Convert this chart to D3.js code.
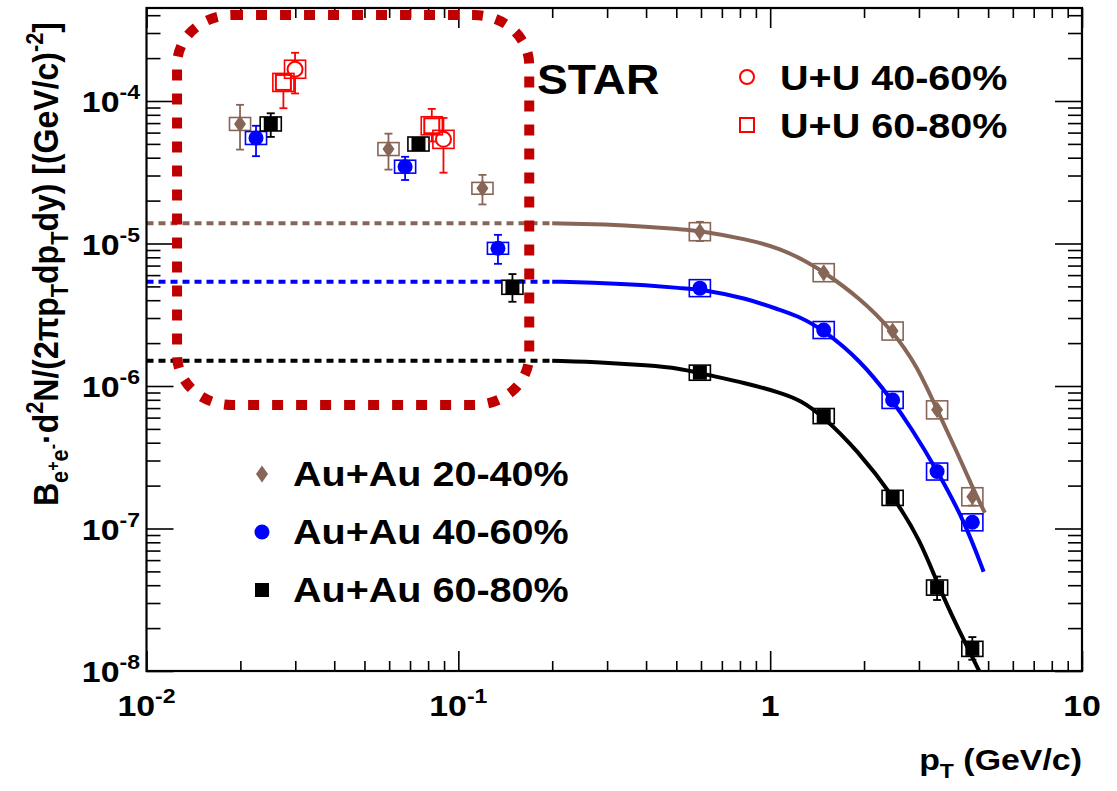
<!DOCTYPE html>
<html>
<head>
<meta charset="utf-8">
<script src="https://cdn.jsdelivr.net/npm/d3@7"></script>
<style>
  body { margin: 0; background: #fff; }
  text { font-family: "Liberation Sans", Arial, Helvetica, sans-serif; font-weight: bold; fill: #000; }
</style>
</head>
<body>
<svg id="chart" width="1117" height="791"></svg>
<script>
  // rows: [pT, value, stat low, stat high, sys fraction]
  const auAu2040 = [
    [0.01995, 6.9e-5, 4.56e-5, 9.4e-5, 0.11],
    [0.0597, 4.6e-5, 3.3e-5, 5.9e-5, 0.11],
    [0.1195, 2.44e-5, 1.88e-5, 3.03e-5, 0.10],
    [0.595, 1.21e-5, 1.04e-5, 1.42e-5, 0.157],
    [1.485, 6.24e-6, 5.5e-6, 7.0e-6, 0.157],
    [2.47, 2.43e-6, 2.25e-6, 2.62e-6, 0.157],
    [3.43, 6.8e-7, 6.3e-7, 7.4e-7, 0.157],
    [4.45, 1.67e-7, 1.45e-7, 1.9e-7, 0.157]
  ];
  const auAu4060 = [
    [0.02245, 5.5e-5, 4.1e-5, 6.7e-5, 0.11],
    [0.0675, 3.46e-5, 2.79e-5, 4.06e-5, 0.11],
    [0.134, 9.25e-6, 7.2e-6, 1.15e-5, 0.10],
    [0.595, 4.86e-6, 4.6e-6, 5.1e-6, 0.147],
    [1.485, 2.47e-6, 2.35e-6, 2.6e-6, 0.147],
    [2.47, 7.98e-7, 7.6e-7, 8.4e-7, 0.147],
    [3.43, 2.51e-7, 2.35e-7, 2.68e-7, 0.147],
    [4.45, 1.105e-7, 1.02e-7, 1.2e-7, 0.147]
  ];
  const auAu6080 = [
    [0.02503, 6.9e-5, 5.6e-5, 8.2e-5, 0.12],
    [0.0745, 4.99e-5, 4.6e-5, 5.3e-5, 0.12],
    [0.1491, 4.93e-6, 3.9e-6, 6.1e-6, 0.12],
    [0.595, 1.24e-6, 1.18e-6, 1.3e-6, 0.13],
    [1.485, 6.15e-7, 5.85e-7, 6.45e-7, 0.13],
    [2.47, 1.64e-7, 1.55e-7, 1.73e-7, 0.13],
    [3.43, 3.85e-8, 3.15e-8, 4.6e-8, 0.13],
    [4.45, 1.43e-8, 1.2e-8, 1.73e-8, 0.13]
  ];
  const uU4060 = [
    [0.02995, 1.67e-4, 1.13e-4, 2.18e-4, 0.157],
    [0.0896, 5.38e-5, 3.14e-5, 7.6e-5, 0.157]
  ];
  const uU6080 = [
    [0.02748, 1.35e-4, 8.9e-5, 1.55e-4, 0.157],
    [0.0822, 6.7e-5, 5.2e-5, 8.8e-5, 0.157]
  ];

  // fit curves: [pT, value]
  const fit2040 = [[0.2,1.387e-5],[0.3,1.36e-5],[0.4,1.315e-5],[0.515,1.258e-5],[0.597,1.229e-5],[0.843,1.07e-5],
    [1.077,9.25e-6],[1.312,7.45e-6],[1.483,6.34e-6],[1.945,4.12e-6],[2.459,2.47e-6],[2.958,1.39e-6],[3.43,6.79e-7],
    [3.975,3.44e-7],[4.484,1.88e-7],[4.881,1.29e-7]];
  const fit4060 = [[0.2,5.4e-6],[0.3,5.28e-6],[0.4,5.11e-6],[0.515,4.85e-6],[0.597,4.79e-6],[0.843,4.12e-6],
    [1.077,3.41e-6],[1.249,3.05e-6],[1.483,2.47e-6],[1.945,1.52e-6],[2.459,7.98e-7],[2.816,5.18e-7],[3.43,2.57e-7],
    [4.224,1.093e-7],[4.837,4.97e-8]];
  const fit6080 = [[0.2,1.505e-6],[0.3,1.462e-6],[0.4,1.4e-6],[0.515,1.33e-6],[0.597,1.227e-6],[0.843,1.045e-6],
    [1.077,8.97e-7],[1.249,7.98e-7],[1.483,6.09e-7],[1.899,3.56e-7],[2.489,1.67e-7],[3.03,8.3e-8],[3.47,3.9e-8],
    [3.975,2.05e-8],[4.66,1.02e-8],[4.9,8.2e-9]];

  const xTickLabels = [[0.01,'10','-2'],[0.1,'10','-1'],[1,'1',''],[10,'10','']];
  const yTickLabels = [[1e-8,'10','-8'],[1e-7,'10','-7'],[1e-6,'10','-6'],[1e-5,'10','-5'],[1e-4,'10','-4']];
  const auLegend = ['Au+Au 20-40%', 'Au+Au 40-60%', 'Au+Au 60-80%'];
  const uuLegend = ['U+U 40-60%', 'U+U 60-80%'];
  // dashed highlight box corners [pT, value]
  const highlight = [[0.01253, 4.01e-4], [0.1688, 7.36e-7]];

  const brown = '#876657', blue = '#0000ff', red = '#ff0000', darkRed = '#c00000';
  const sx = 1.13;
  const frame = {left: 146.5, right: 1082, top: 8, bottom: 671};

  const svg = d3.select('#chart');
  const x = d3.scaleLog().domain([0.01, 10]).range([frame.left, frame.right]);
  const y = d3.scaleLog().domain([1e-8, 4.494e-4]).range([frame.bottom, frame.top]);

  svg.append('defs').append('clipPath').attr('id', 'plotClip')
    .append('rect').attr('x', frame.left).attr('y', frame.top)
    .attr('width', frame.right - frame.left).attr('height', frame.bottom - frame.top);

  // parts: [text, kind] with kind null | 'sup' | 'sub' | 'subsup'
  function richText(parent, px, py, parts, opts) {
    const t = parent.append('text')
      .attr('transform', opts.transform || `translate(${px},${py}) scale(${opts.sx || 1},1)`)
      .attr('text-anchor', opts.anchor || 'start')
      .attr('font-size', opts.size);
    const shifts = {sup: -0.42, sub: 0.28, subsup: 0.02};
    const sizes = {sup: 0.68, sub: 0.68, subsup: 0.5};
    let shift = 0;
    parts.forEach(([s, kind]) => {
      const target = kind ? opts.size * shifts[kind] : 0;
      const ts = t.append('tspan').text(s).attr('dy', target - shift);
      if (kind) ts.attr('font-size', opts.size * sizes[kind]);
      shift = target;
    });
    return t;
  }

  // ---- axes ticks (all four sides, inward)
  const ax = svg.append('g');
  const isMajor = v => Math.abs(Math.log10(v) - Math.round(Math.log10(v))) < 1e-6;

  ax.append('g').attr('transform', `translate(0,${frame.bottom})`)
    .call(d3.axisBottom(x).tickValues(x.ticks()).tickSizeOuter(0).tickFormat(''))
    .call(g => g.selectAll('.tick line').attr('y2', d => isMajor(d) ? -20 : -10));
  ax.append('g').attr('transform', `translate(0,${frame.top})`)
    .call(d3.axisTop(x).tickValues(x.ticks()).tickSizeOuter(0).tickFormat(''))
    .call(g => g.selectAll('.tick line').attr('y2', d => isMajor(d) ? 20 : 10));
  ax.append('g').attr('transform', `translate(${frame.left},0)`)
    .call(d3.axisLeft(y).tickValues(y.ticks()).tickSizeOuter(0).tickFormat(''))
    .call(g => g.selectAll('.tick line').attr('x2', d => isMajor(d) ? 27 : 14));
  ax.append('g').attr('transform', `translate(${frame.right},0)`)
    .call(d3.axisRight(y).tickValues(y.ticks()).tickSizeOuter(0).tickFormat(''))
    .call(g => g.selectAll('.tick line').attr('x2', d => isMajor(d) ? -27 : -14));
  ax.selectAll('.domain').remove();
  ax.selectAll('.tick line').attr('stroke', '#000').attr('stroke-width', 1.6);

  // ---- curves
  const line = d3.line().x(d => x(d[0])).y(d => y(d[1])).curve(d3.curveBasis);
  const curves = svg.append('g').attr('clip-path', 'url(#plotClip)');
  [[fit2040, brown], [fit4060, blue], [fit6080, '#000']].forEach(([fit, col]) => {
    curves.append('path').attr('d', line([[0.01, fit[0][1]], fit[0]]))
      .attr('fill', 'none').attr('stroke', col).attr('stroke-width', 4).attr('stroke-dasharray', '7 5');
    curves.append('path').attr('d', line(fit))
      .attr('fill', 'none').attr('stroke', col).attr('stroke-width', 4);
  });

  // ---- data points
  const boxW = 1.081;
  const pts = svg.append('g');
  function drawSeries(data, col, shape, open) {
    const g = pts.append('g');
    const half = shape === 'diamond' ? 8 : shape === 'circle' ? (open ? 8.5 : 7.5) : (open ? 8.5 : 7);
    data.forEach(([pt, v, lo, hi, sys]) => {
      const cx = x(pt), cy = y(v);
      g.append('rect').attr('x', x(pt / boxW)).attr('width', x(pt * boxW) - x(pt / boxW))
        .attr('y', y(v * (1 + sys))).attr('height', y(v / (1 + sys)) - y(v * (1 + sys)))
        .attr('fill', 'none').attr('stroke', col).attr('stroke-width', 1.6);
      const yHi = y(hi), yLo = y(lo);
      const segs = open ? [[yHi, cy - half], [cy + half, yLo]] : [[yHi, yLo]];
      segs.forEach(([a, b]) => {
        if (b > a) g.append('line').attr('x1', cx).attr('x2', cx).attr('y1', a).attr('y2', b)
          .attr('stroke', col).attr('stroke-width', 1.8);
      });
      [yHi, yLo].forEach(yy => {
        if (Math.abs(yy - cy) > half) g.append('line').attr('x1', cx - 4).attr('x2', cx + 4)
          .attr('y1', yy).attr('y2', yy).attr('stroke', col).attr('stroke-width', 1.8);
      });
      drawMarker(g, cx, cy, shape, col, open);
    });
  }
  function drawMarker(g, cx, cy, shape, col, open) {
    if (shape === 'diamond') {
      g.append('path').attr('d', `M${cx},${cy - 8.5}L${cx + 6},${cy}L${cx},${cy + 8.5}L${cx - 6},${cy}Z`).attr('fill', col);
    } else if (shape === 'circle') {
      const c = g.append('circle').attr('cx', cx).attr('cy', cy).attr('r', 7.5);
      if (open) c.attr('fill', 'none').attr('stroke', col).attr('stroke-width', 2);
      else c.attr('fill', col);
    } else {
      const s = open ? 15 : 14;
      const r = g.append('rect').attr('x', cx - s / 2).attr('y', cy - s / 2).attr('width', s).attr('height', s);
      if (open) r.attr('fill', 'none').attr('stroke', col).attr('stroke-width', 2);
      else r.attr('fill', col);
    }
  }
  drawSeries(auAu2040, brown, 'diamond', false);
  drawSeries(auAu4060, blue, 'circle', false);
  drawSeries(auAu6080, '#000', 'square', false);
  drawSeries(uU6080, red, 'square', true);
  drawSeries(uU4060, red, 'circle', true);

  // ---- highlight box
  const hx0 = x(highlight[0][0]), hy0 = y(highlight[0][1]);
  const hx1 = x(highlight[1][0]), hy1 = y(highlight[1][1]);
  svg.append('rect').attr('x', hx0).attr('y', hy0).attr('width', hx1 - hx0).attr('height', hy1 - hy0)
    .attr('rx', 55).attr('ry', 50).attr('fill', 'none').attr('stroke', darkRed)
    .attr('stroke-width', 10).attr('stroke-dasharray', '11 13');

  // ---- frame
  svg.append('rect').attr('x', frame.left).attr('y', frame.top)
    .attr('width', frame.right - frame.left).attr('height', frame.bottom - frame.top)
    .attr('fill', 'none').attr('stroke', '#000').attr('stroke-width', 2.2);

  // ---- tick labels
  const labels = svg.append('g');
  xTickLabels.forEach(([v, base, exp]) => {
    const parts = [[base, null]];
    if (exp) parts.push([exp, 'sup']);
    richText(labels, x(v), 716, parts, {size: 30, anchor: 'middle', sx: sx});
  });
  yTickLabels.forEach(([v, base, exp]) => {
    richText(labels, 140, y(v) + 11, [[base, null], [exp, 'sup']], {size: 30, anchor: 'end', sx: sx});
  });

  // ---- axis titles
  richText(labels, 1082, 770, [['p', null], ['T', 'sub'], [' (GeV/c)', null]], {size: 30, anchor: 'end', sx: sx});
  richText(labels, 0, 0, [
    ['B', null], ['e', 'sub'], ['+', 'subsup'], ['e', 'sub'], ['-', 'subsup'], ['\u00b7d', null], ['2', 'sup'],
    ['N/(2\u03c0p', null], ['T', 'sub'], ['dp', null], ['T', 'sub'], ['dy) [(GeV/c)', null], ['-2', 'sup'], [']', null]
  ], {size: 32, anchor: 'middle', transform: 'translate(58,264) rotate(-90) scale(1,1.12)'});

  // ---- annotations
  richText(labels, 537, 94, [['STAR', null]], {size: 42, sx: 1.1});

  const legU = svg.append('g');
  uuLegend.forEach((name, i) => {
    const cy = 77 + i * 48;
    if (i === 0) legU.append('circle').attr('cx', 747).attr('cy', cy).attr('r', 7).attr('fill', 'none').attr('stroke', red).attr('stroke-width', 2);
    else legU.append('rect').attr('x', 740).attr('y', cy - 7).attr('width', 14).attr('height', 14).attr('fill', 'none').attr('stroke', red).attr('stroke-width', 2);
    richText(legU, 780, cy + 13, [[name, null]], {size: 35, sx: sx});
  });

  const legA = svg.append('g');
  const legMarkers = [['diamond', brown], ['circle', blue], ['square', '#000']];
  auLegend.forEach((name, i) => {
    const cy = 474 + i * 58;
    drawMarker(legA, 262, cy, legMarkers[i][0], legMarkers[i][1], false);
    richText(legA, 293, cy + 12, [[name, null]], {size: 35, sx: sx});
  });
</script>
</body>
</html>
